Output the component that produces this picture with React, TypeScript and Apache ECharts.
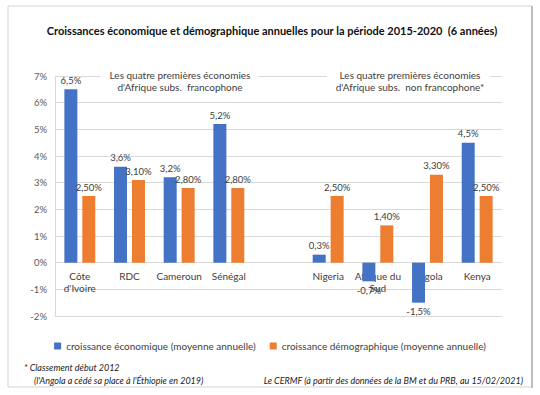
import React, { useEffect, useRef } from "react";
import * as echarts from "echarts";

const categories = ["Côte\nd'Ivoire", "RDC", "Cameroun", "Sénégal", "", "Nigeria", "Afrique du\nSud", "Angola", "Kenya"];
const ecoGrowth: (number | null)[] = [6.5, 3.6, 3.2, 5.2, null, 0.3, -0.7, -1.5, 4.5];
const demoGrowth: (number | null)[] = [2.5, 3.1, 2.8, 2.8, null, 2.5, 1.4, 3.3, 2.5];
const seriesNames = ["croissance économique (moyenne annuelle)", "croissance démographique (moyenne annuelle)"];
const yMin = -2;
const yMax = 7;

const FONT = "Lato, 'Noto Sans', sans-serif";
const TXT = "#404040";

function toData(arr: (number | null)[]) {
  return arr.map((v) =>
    v === null
      ? null
      : v < 0
      ? { value: v, label: { position: "bottom" } }
      : { value: v }
  );
}

export default function App() {
  const ref = useRef<HTMLDivElement>(null);
  useEffect(() => {
    if (!ref.current) return;
    const chart = echarts.init(ref.current, null, { renderer: "svg" });
    const fmt = (d: number) => (p: any) =>
      p.value === null || p.value === undefined ? "" : Number(p.value).toFixed(d).replace(".", ",") + "%";
    const gridTop = 76;
    const gridBottomPx = 316;
    const zeroY = gridTop + ((yMax - 0) / (yMax - yMin)) * (gridBottomPx - gridTop);
    chart.setOption({
      animation: false,
      backgroundColor: "#ffffff",
      textStyle: { fontFamily: FONT },
      grid: { left: 55, right: 38, top: gridTop, bottom: 395 - gridBottomPx, containLabel: false },
      legend: {
        data: seriesNames,
        top: 336,
        left: "center",
        orient: "horizontal",
        icon: "rect",
        itemWidth: 7,
        itemHeight: 7,
        itemGap: 14,
        textStyle: { fontFamily: FONT, fontSize: 10, color: TXT },
      },
      xAxis: {
        type: "category",
        data: categories,
        axisTick: { show: false },
        axisLine: { onZero: false, lineStyle: { color: "#d9d9d9" } },
        axisLabel: {
          color: TXT,
          fontSize: 10,
          fontFamily: FONT,
          lineHeight: 12,
          margin: -(gridBottomPx - zeroY) + 7,
          interval: 0,
        },
      },
      yAxis: {
        type: "value",
        min: yMin,
        max: yMax,
        interval: 1,
        axisLine: { show: true, lineStyle: { color: "#d9d9d9" } },
        axisTick: { show: false },
        splitLine: { lineStyle: { color: "#d9d9d9" } },
        axisLabel: { color: "#595959", fontSize: 9.5, fontFamily: FONT, margin: 8, formatter: (v: number) => v + "%" },
      },
      series: [
        {
          name: seriesNames[0],
          type: "bar",
          data: toData(ecoGrowth),
          barWidth: 13,
          barGap: "38%",
          itemStyle: { color: "#4472C4" },
          label: { show: true, position: "top", distance: 4, color: TXT, fontSize: 9.5, fontFamily: FONT, formatter: fmt(1) },
        },
        {
          name: seriesNames[1],
          type: "bar",
          data: toData(demoGrowth),
          barWidth: 13,
          itemStyle: { color: "#ED7D31" },
          label: { show: true, position: "top", distance: 4, color: TXT, fontSize: 9.5, fontFamily: FONT, formatter: fmt(2) },
        },
      ],
      graphic: [
        { type: "rect", shape: { x: 8, y: 6, width: 524, height: 381 }, style: { fill: "none", stroke: "#d4d4d4", lineWidth: 1 }, silent: true },
        { type: "line", shape: { x1: 532, y1: 6, x2: 532, y2: 388 }, style: { stroke: "#bdbdbd", lineWidth: 2 }, silent: true },
        {
          type: "text",
          x: 272,
          y: 30,
          style: { text: "Croissances économique et démographique annuelles pour la période 2015-2020  (6 années)", fill: "#111", font: `bold 11px ${FONT}`, textAlign: "center", textVerticalAlign: "middle" },
        },
        { type: "rect", shape: { x: 100, y: 69, width: 158, height: 26 }, style: { fill: "#ffffff" }, z: 10 },
        {
          type: "text",
          x: 180,
          y: 81,
          z: 11,
          style: { text: "Les quatre premières économies\nd'Afrique subs.  francophone", fill: TXT, font: `10px ${FONT}`, lineHeight: 12.5, textAlign: "center", textVerticalAlign: "middle" },
        },
        { type: "rect", shape: { x: 327, y: 69, width: 163, height: 26 }, style: { fill: "#ffffff" }, z: 10 },
        {
          type: "text",
          x: 410,
          y: 81,
          z: 11,
          style: { text: "Les quatre premières économies\nd'Afrique subs.  non francophone*", fill: TXT, font: `10px ${FONT}`, lineHeight: 12.5, textAlign: "center", textVerticalAlign: "middle" },
        },
        {
          type: "text",
          x: 24,
          y: 367,
          style: { text: "* Classement début 2012", fill: "#222", font: `italic 9px ${FONT}`, textVerticalAlign: "middle" },
        },
        {
          type: "text",
          x: 34,
          y: 380,
          style: { text: "(l'Angola a cédé sa place à l'Éthiopie en 2019)", fill: "#222", font: `italic 9px ${FONT}`, textVerticalAlign: "middle" },
        },
        {
          type: "text",
          x: 523,
          y: 380,
          style: { text: "Le CERMF (à partir des données de la BM et du PRB, au 15/02/2021)", fill: "#222", font: `italic 9px ${FONT}`, textAlign: "right", textVerticalAlign: "middle" },
        },
      ],
    });
    return () => chart.dispose();
  }, []);
  return <div ref={ref} style={{ position: "fixed", left: 0, top: 0, width: 540, height: 395 }} />;
}
